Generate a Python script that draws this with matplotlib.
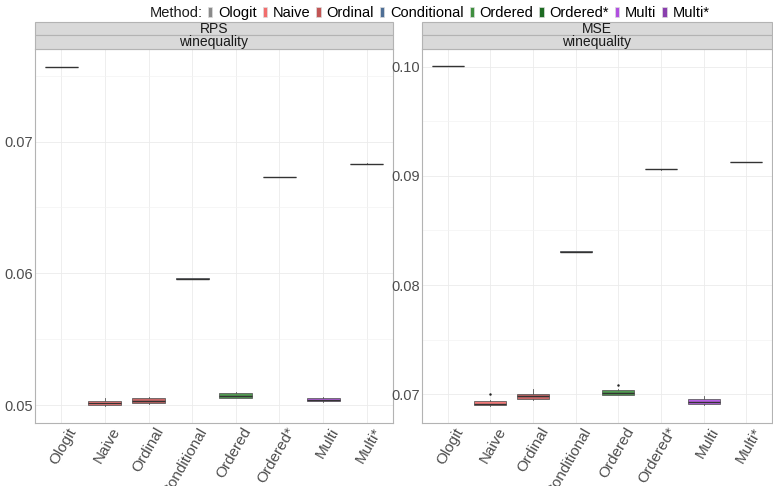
import numpy as np
import matplotlib
matplotlib.use("Agg")
import matplotlib.pyplot as plt
import matplotlib.transforms as mtransforms
from matplotlib.patches import Rectangle, Patch

plt.rcParams['font.family'] = ['Liberation Sans', 'DejaVu Sans']

methods = ["Ologit", "Naive", "Ordinal", "Conditional", "Ordered", "Ordered*", "Multi", "Multi*"]
colors = ["#8a8a8a", "#f26d6d", "#c25555", "#4f6f96", "#3f8f3f", "#1d6b22", "#b04fe0", "#8a3fae"]

# box statistics per method: whisker low, q1, median, q3, whisker high
rps_lo  = [0.07562, 0.04995, 0.05008, 0.05955, 0.05050, 0.06728, 0.05022, 0.06830]
rps_q1  = [0.07563, 0.04998, 0.05013, 0.05957, 0.05055, 0.06729, 0.05030, 0.06831]
rps_med = [0.07564, 0.05015, 0.05030, 0.05960, 0.05070, 0.06730, 0.05040, 0.06832]
rps_q3  = [0.07565, 0.05030, 0.05051, 0.05963, 0.05089, 0.06731, 0.05051, 0.06833]
rps_hi  = [0.07567, 0.05055, 0.05065, 0.05965, 0.05100, 0.06732, 0.05062, 0.06834]

mse_lo  = [0.10004, 0.06890, 0.06950, 0.08302, 0.06990, 0.09058, 0.06900, 0.09125]
mse_q1  = [0.10005, 0.06899, 0.06960, 0.08303, 0.06997, 0.09059, 0.06914, 0.09126]
mse_med = [0.10006, 0.06915, 0.06980, 0.08306, 0.07015, 0.09060, 0.06933, 0.09127]
mse_q3  = [0.10007, 0.06936, 0.07000, 0.08309, 0.07037, 0.09061, 0.06954, 0.09128]
mse_hi  = [0.10008, 0.06945, 0.07049, 0.08311, 0.07045, 0.09062, 0.06980, 0.09129]
mse_out = [[], [0.07000], [], [], [0.07082], [], [], []]

panels = [
    ("RPS", (rps_lo, rps_q1, rps_med, rps_q3, rps_hi), [[]] * 8,
     (0.04864, 0.07702), [0.05, 0.06, 0.07], [0.055, 0.065, 0.075]),
    ("MSE", (mse_lo, mse_q1, mse_med, mse_q3, mse_hi), mse_out,
     (0.06737, 0.10162), [0.07, 0.08, 0.09, 0.10], [0.075, 0.085, 0.095]),
]

W, H = 773, 486
fig = plt.figure(figsize=(W / 100, H / 100), dpi=100)

def fx(px):
    return px / W

def fy(px):
    return 1 - px / H

boxes = [(35, 393), (422, 772)]
top, bottom = 49, 423
strip_h = 13.5

for (title, st, outs, ylim, major, minor), (x0, x1) in zip(panels, boxes):
    ax = fig.add_axes([fx(x0), fy(bottom), fx(x1 - x0), (bottom - top) / H])
    stats = []
    for i in range(len(methods)):
        stats.append(dict(whislo=st[0][i], q1=st[1][i], med=st[2][i],
                          q3=st[3][i], whishi=st[4][i], fliers=outs[i]))
    bp = ax.bxp(stats, positions=np.arange(1, 9), widths=0.75, patch_artist=True,
                showcaps=False, flierprops=dict(marker='.', markersize=1.5,
                                                markerfacecolor='#222222',
                                                markeredgecolor='#222222'))
    for i, c in enumerate(colors):
        bp['boxes'][i].set_facecolor(c)
        bp['boxes'][i].set_alpha(0.9)
        bp['boxes'][i].set_edgecolor('#555555')
        bp['boxes'][i].set_linewidth(0.6)
        bp['medians'][i].set_color('#333333')
        bp['medians'][i].set_linewidth(1.0)
    for w in bp['whiskers']:
        w.set_color('#555555')
        w.set_linewidth(0.6)

    ax.set_xlim(0.4, 8.6)
    ax.set_ylim(*ylim)
    ax.set_yticks(major)
    ax.set_yticks(minor, minor=True)
    ax.set_yticklabels([f"{v:.2f}" for v in major], fontsize=10.5, color='#4d4d4d')
    ax.set_xticks(np.arange(1, 9))
    ax.tick_params(axis='both', which='both', length=0)
    ax.tick_params(axis='y', pad=1.5)
    ax.tick_params(axis='x', pad=1.5)
    ax.set_xticklabels(methods, rotation=60, ha='right', va='top',
                       rotation_mode='anchor', fontsize=11, color='#4d4d4d')
    # nudge the rotated labels to the right of their ticks
    shift = mtransforms.ScaledTranslation(0.06, 0.0, fig.dpi_scale_trans)
    for lab in ax.get_xticklabels():
        lab.set_transform(lab.get_transform() + shift)
    ax.grid(True, which='major', color='#ebebeb', linewidth=0.6)
    ax.grid(True, which='minor', axis='y', color='#f3f3f3', linewidth=0.5)
    ax.set_axisbelow(True)
    for s in ax.spines.values():
        s.set_color('#b3b3b3')
        s.set_linewidth(0.8)

    # facet strips above the panel
    for k, label in enumerate([title, "winequality"]):
        y_top = top - strip_h * (2 - k)
        r = Rectangle((fx(x0), fy(y_top + strip_h)), fx(x1 - x0), strip_h / H,
                      transform=fig.transFigure, facecolor='#d9d9d9',
                      edgecolor='#b3b3b3', linewidth=0.8)
        fig.add_artist(r)
        fig.text(fx((x0 + x1) / 2), fy(y_top + strip_h / 2), label,
                 ha='center', va='center', fontsize=10, color='#1a1a1a')

fig.text(fx(150), fy(13), "Method:", ha='left', va='center', fontsize=10.5, color='#1a1a1a')
handles = [Patch(facecolor=c, edgecolor='#dddddd', linewidth=0.5) for c in colors]
fig.legend(handles, methods, loc='center left', bbox_to_anchor=(fx(208), fy(13)),
           ncol=8, frameon=False, fontsize=10.5, handlelength=0.3, handleheight=0.7,
           handletextpad=0.4, columnspacing=0.4, borderpad=0, borderaxespad=0)

fig.savefig("out.png", dpi=100)
